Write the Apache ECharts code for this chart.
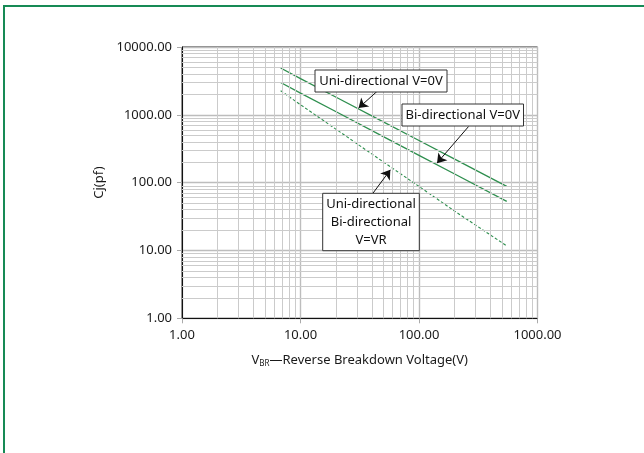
<!DOCTYPE html>
<html>
<head>
<meta charset="utf-8">
<script src="https://cdn.jsdelivr.net/npm/echarts@6/dist/echarts.min.js"></script>
<style>
html,body{margin:0;padding:0;background:#fff;}
#chart{width:644px;height:453px;}
</style>
</head>
<body>
<div id="chart"></div>
<script>
// ---- data ----
var vbr   = [6.8, 10, 20, 50, 100, 200, 550];
var uniC  = [4900, 3420, 1815, 787, 418, 222, 88];
var biC   = [3000, 2094, 1109, 478, 253, 134, 53];
var vrC   = [2270, 1409, 611, 202, 88, 38, 11.7];
var xTicks = [1, 10, 100, 1000];
var yTicks = [1, 10, 100, 1000, 10000];
var minorX = [2,3,4,5,6,7,8,9,20,30,40,50,60,70,80,90,200,300,400,500,600,700,800,900];
var minorY = [2,3,4,5,6,7,8,9,20,30,40,50,60,70,80,90,200,300,400,500,600,700,800,900,2000,3000,4000,5000,6000,7000,8000,9000];
var labelUni = 'Uni-directional V=0V';
var labelBi  = 'Bi-directional V=0V';
var labelVR  = ['Uni-directional', 'Bi-directional', 'V=VR'];
// arrow [from, to] in data units
var arrowUni = [[44.2, 2213], [30.9, 1259]];
var arrowBi  = [[262, 673], [141.9, 194]];
var arrowVR  = [[40.9, 70], [57.3, 154.5]];

function pairs(xs, ys){ return xs.map(function(x,i){ return [x, ys[i]]; }); }

var FONT = '"Noto Sans", "Open Sans", sans-serif';
var green = '#2f8f4f';

var chart = echarts.init(document.getElementById('chart'));
var option = {
  animation: false,
  backgroundColor: '#fff',
  grid: {left: 182, right: 106.5, top: 47, bottom: 134.7, show: true, borderColor: '#111', borderWidth: 1, backgroundColor: 'transparent'},
  xAxis: {
    type: 'log', logBase: 10, min: xTicks[0], max: xTicks[xTicks.length-1],
    axisLine: {show: true, onZero: false, lineStyle: {color: '#111', width: 1}},
    axisTick: {show: true, length: 5, lineStyle: {color: '#aaa'}},
    axisLabel: {color: '#1a1a1a', fontSize: 13, fontFamily: FONT, margin: 10, formatter: function(v){ return v.toFixed(2); }},
    splitLine: {show: true, lineStyle: {color: '#bdbdbd', width: 1.4}},
    name: '{a|V}{b|BR}{a|—Reverse Breakdown Voltage(V)}',
    nameLocation: 'middle', nameGap: 35,
    nameTextStyle: {rich: {
      a: {fontSize: 13, fontFamily: FONT, color: '#1a1a1a'},
      b: {fontSize: 8, fontFamily: FONT, color: '#1a1a1a', padding: [6, 0, 0, 0]}
    }}
  },
  yAxis: {
    type: 'log', logBase: 10, min: yTicks[0], max: yTicks[yTicks.length-1],
    axisLine: {show: true, onZero: false, lineStyle: {color: '#111', width: 1}},
    axisTick: {show: true, length: 5, lineStyle: {color: '#aaa'}},
    axisLabel: {color: '#1a1a1a', fontSize: 13, fontFamily: FONT, margin: 10, formatter: function(v){ return v.toFixed(2); }},
    splitLine: {show: true, lineStyle: {color: '#bdbdbd', width: 1.4}},
    name: 'Cj(pf)', nameLocation: 'middle', nameGap: 66,
    nameTextStyle: {fontSize: 13, fontFamily: FONT, color: '#1a1a1a'}
  },
  series: [
    {
      name: 'minorGrid', type: 'line', data: [], z: 1, silent: true,
      markLine: {
        silent: true, symbol: 'none', animation: false,
        label: {show: false},
        lineStyle: {color: '#cbcbcb', type: 'solid', width: 1},
        data: minorX.map(function(v){ return {xAxis: v}; }).concat(minorY.map(function(v){ return {yAxis: v}; }))
      }
    },
    {name: 'Uni V=0V', type: 'line', data: pairs(vbr, uniC), showSymbol: false, z: 3,
     lineStyle: {color: green, width: 1.3}},
    {name: 'Bi V=0V', type: 'line', data: pairs(vbr, biC), showSymbol: false, z: 3,
     lineStyle: {color: green, width: 1.3}},
    {name: 'V=VR', type: 'line', data: pairs(vbr, vrC), showSymbol: false, z: 3,
     lineStyle: {color: green, width: 1.1, type: [3, 2]},
     markLine: {
       silent: true, symbol: ['none', 'arrow'], symbolSize: 9, animation: false,
       label: {show: false},
       lineStyle: {color: '#111', type: 'solid', width: 1},
       data: [arrowUni, arrowBi, arrowVR].map(function(a){ return [{coord: a[0]}, {coord: a[1]}]; })
     }}
  ],
  graphic: [
    {type: 'line', shape: {x1: 4, y1: 6, x2: 644, y2: 6}, style: {stroke: '#168a55', lineWidth: 2}, z: 10},
    {type: 'line', shape: {x1: 4, y1: 5, x2: 4, y2: 453}, style: {stroke: '#168a55', lineWidth: 2}, z: 10},
    {type: 'rect', shape: {x: 315, y: 70, width: 132, height: 22}, style: {fill: '#fff', stroke: '#333', lineWidth: 1}, z: 10},
    {type: 'text', x: 381, y: 81, style: {text: labelUni, align: 'center', verticalAlign: 'middle', font: '13px ' + FONT, fill: '#111'}, z: 11},
    {type: 'rect', shape: {x: 402, y: 104, width: 121.5, height: 22}, style: {fill: '#fff', stroke: '#333', lineWidth: 1}, z: 10},
    {type: 'text', x: 462.7, y: 115, style: {text: labelBi, align: 'center', verticalAlign: 'middle', font: '13px ' + FONT, fill: '#111'}, z: 11},
    {type: 'rect', shape: {x: 322.7, y: 193.3, width: 96.6, height: 57.4}, style: {fill: '#fff', stroke: '#333', lineWidth: 1}, z: 10},
    {type: 'text', x: 371, y: 204, style: {text: labelVR[0], align: 'center', verticalAlign: 'middle', font: '13px ' + FONT, fill: '#111'}, z: 11},
    {type: 'text', x: 371, y: 222.3, style: {text: labelVR[1], align: 'center', verticalAlign: 'middle', font: '13px ' + FONT, fill: '#111'}, z: 11},
    {type: 'text', x: 371, y: 240, style: {text: labelVR[2], align: 'center', verticalAlign: 'middle', font: '13px ' + FONT, fill: '#111'}, z: 11}
  ]
};
chart.setOption(option);
</script>
</body>
</html>
